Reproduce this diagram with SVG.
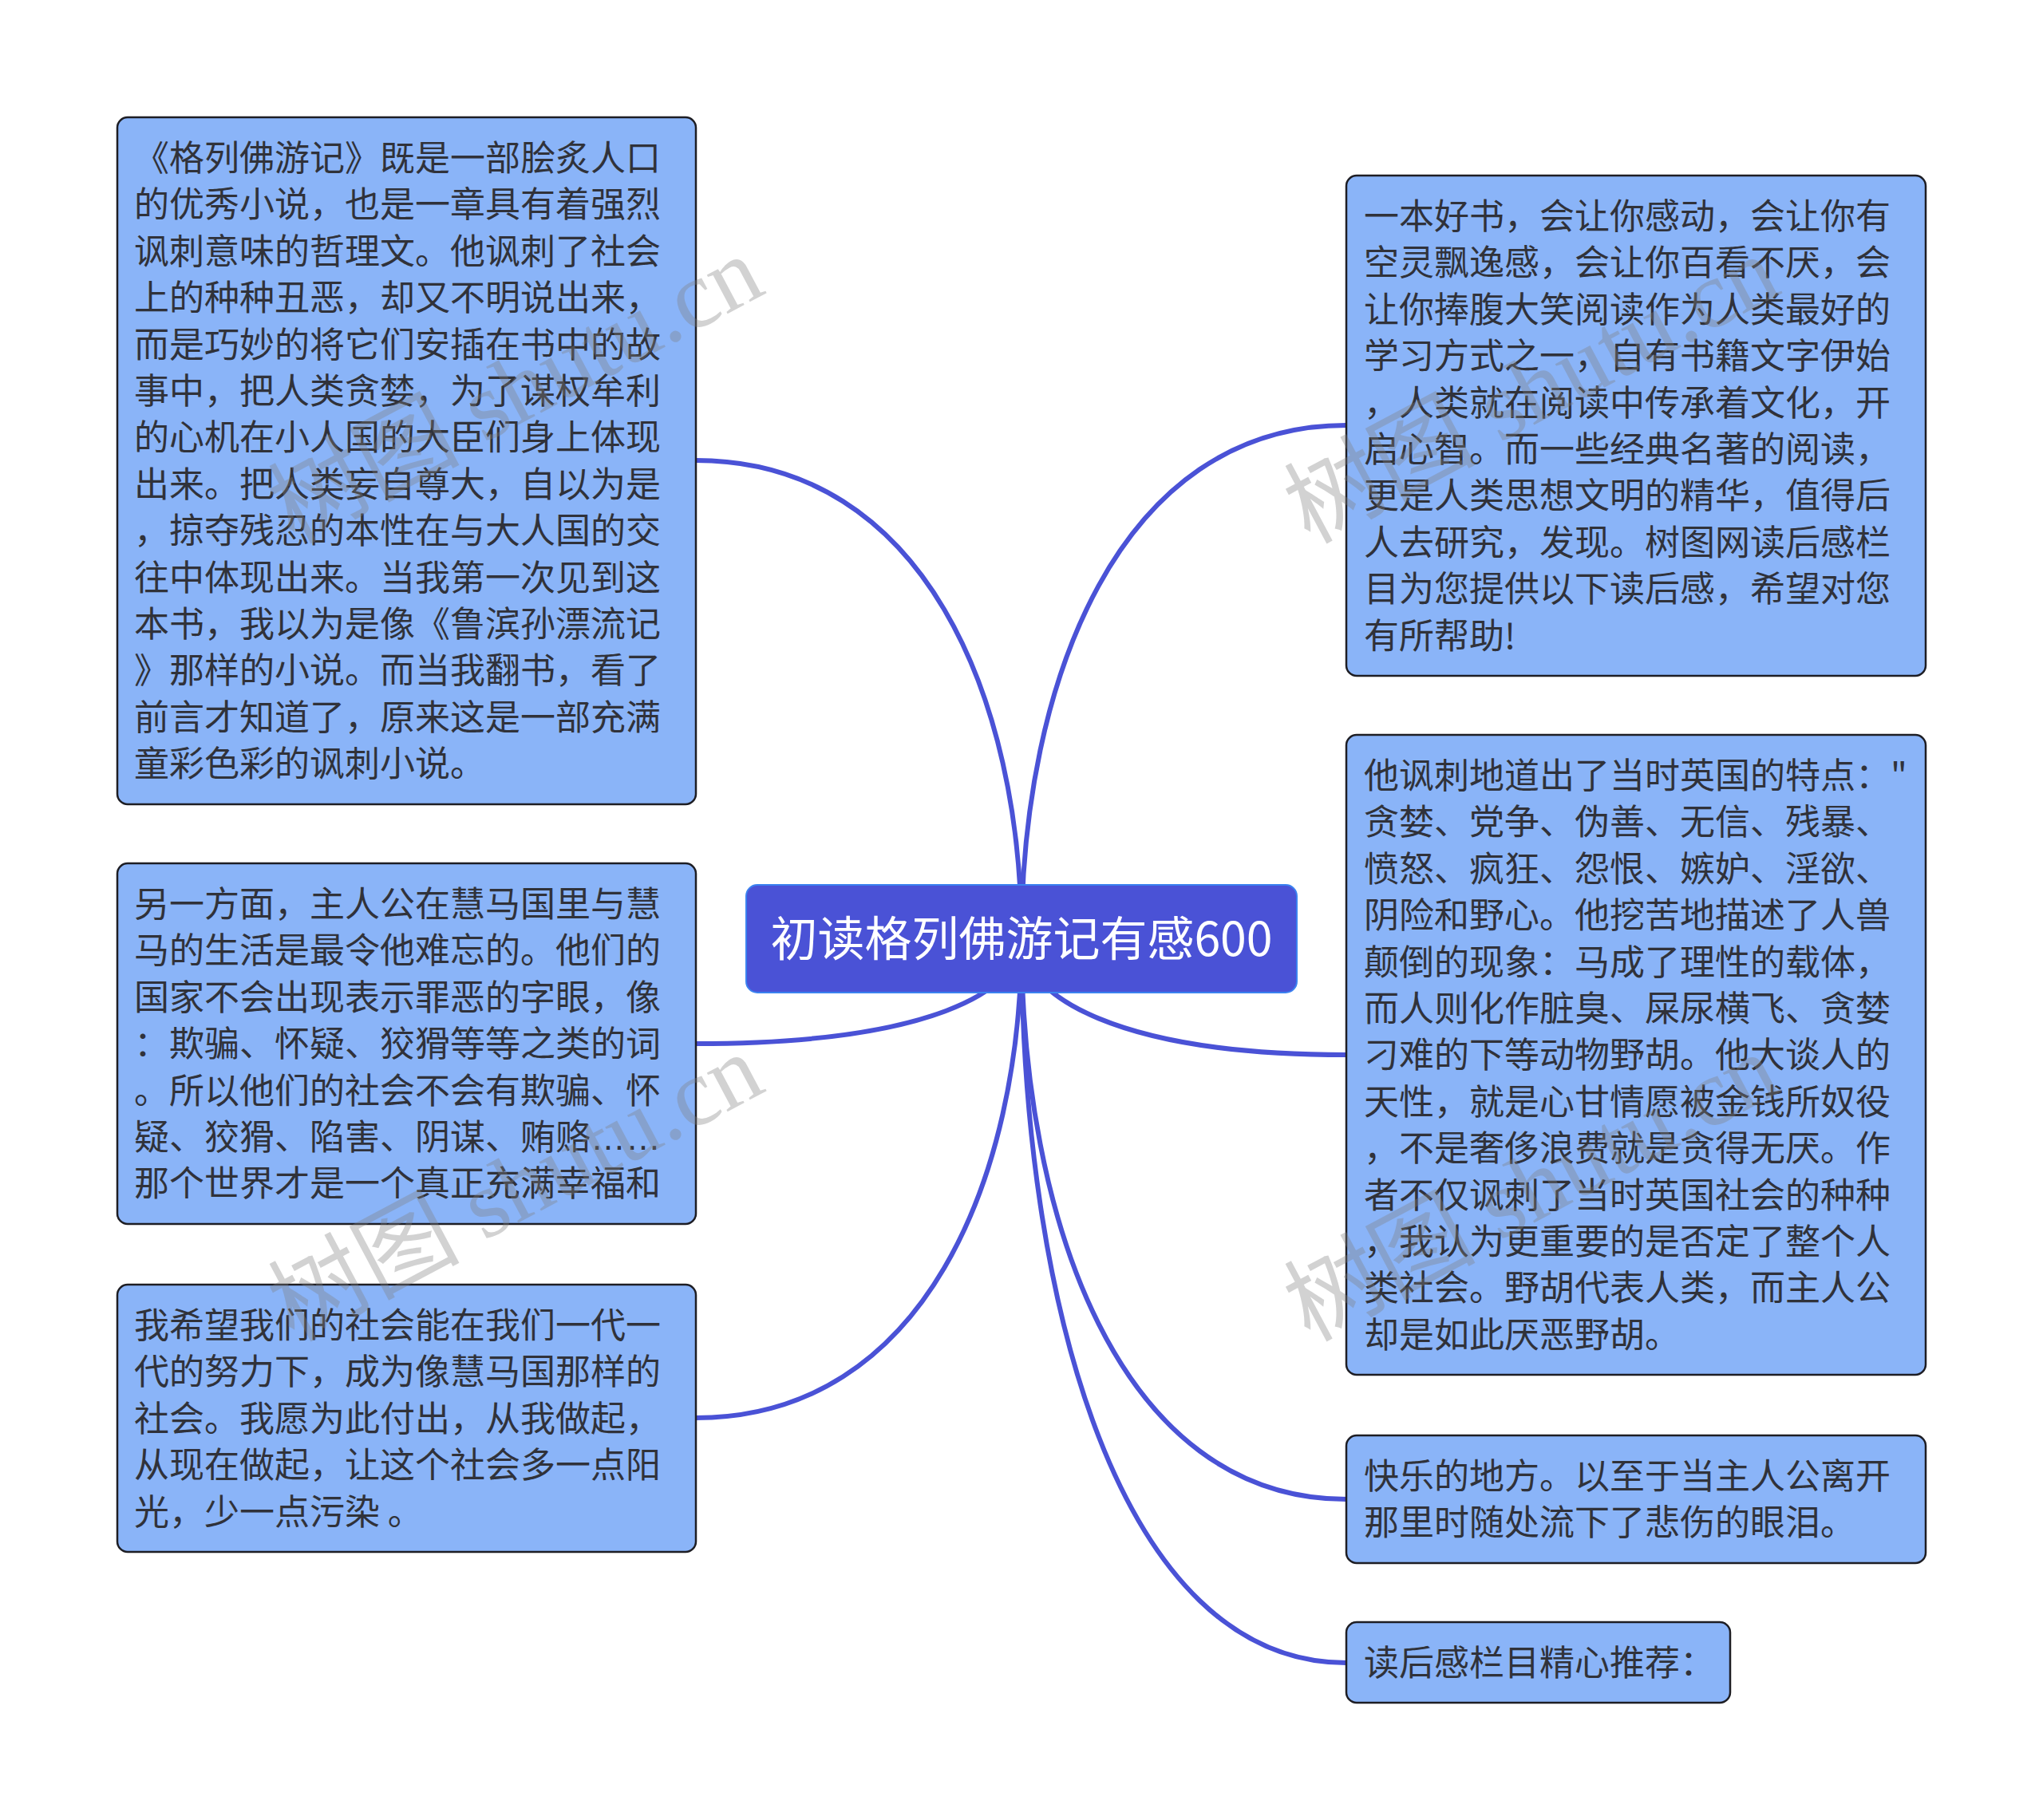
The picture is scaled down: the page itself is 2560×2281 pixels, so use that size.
<svg xmlns="http://www.w3.org/2000/svg" width="2560" height="2281" viewBox="0 0 2560 2281">
<style>
.bg{fill:#ffffff}
.link{fill:none;stroke:#4a52d6;stroke-width:6;stroke-linecap:round}
.box{fill:#8ab4f8;stroke:#1e1e24;stroke-width:2.5}
.root{fill:#4a52d6;stroke:#3b82f0;stroke-width:2}
.t{font-family:"Noto Sans CJK SC","Noto Sans",sans-serif;font-size:44px;fill:#30323a}
.lat{font-family:"Liberation Sans","Noto Sans CJK SC",sans-serif}
.rt{font-family:"Noto Sans CJK SC","Noto Sans",sans-serif;font-size:59px;fill:#ffffff}
.wm{font-family:"Liberation Serif","Noto Sans CJK SC",serif;font-size:120px;fill:#808080;opacity:0.35}
</style>
<rect class="bg" x="0" y="0" width="2560" height="2281"/>
<g id="connectors">
<path class="link" d="M1280,1176 C1280,855 1402,533 1687,533"/>
<path class="link" d="M1280,1176 C1280,876 1158,577 872,577"/>
<path class="link" d="M1280,1176 C1280,1242 1165,1308 872,1308"/>
<path class="link" d="M1280,1176 C1280,1249 1402,1322 1687,1322"/>
<path class="link" d="M1280,1176 C1280,1476 1158,1777 872,1777"/>
<path class="link" d="M1280,1176 C1280,1527 1402,1879 1687,1879"/>
<path class="link" d="M1280,1176 C1280,1630 1402,2084 1687,2084"/>
</g>
<g id="root">
<rect class="root" x="935" y="1109" width="690" height="135" rx="14"/>
<text class="rt" x="1280" y="1198" text-anchor="middle">初读格列佛游记有感600</text>
</g>
<g id="node-l1">
<rect class="box" x="147" y="147" width="725" height="861" rx="13"/>
<text class="t" x="168" y="214">
<tspan x="168">《格列佛游记》既是一部脍炙人口</tspan>
<tspan x="168" dy="58.4">的优秀小说，也是一章具有着强烈</tspan>
<tspan x="168" dy="58.4">讽刺意味的哲理文。他讽刺了社会</tspan>
<tspan x="168" dy="58.4">上的种种丑恶，却又不明说出来，</tspan>
<tspan x="168" dy="58.4">而是巧妙的将它们安插在书中的故</tspan>
<tspan x="168" dy="58.4">事中，把人类贪婪，为了谋权牟利</tspan>
<tspan x="168" dy="58.4">的心机在小人国的大臣们身上体现</tspan>
<tspan x="168" dy="58.4">出来。把人类妄自尊大，自以为是</tspan>
<tspan x="168" dy="58.4">，掠夺残忍的本性在与大人国的交</tspan>
<tspan x="168" dy="58.4">往中体现出来。当我第一次见到这</tspan>
<tspan x="168" dy="58.4">本书，我以为是像《鲁滨孙漂流记</tspan>
<tspan x="168" dy="58.4">》那样的小说。而当我翻书，看了</tspan>
<tspan x="168" dy="58.4">前言才知道了，原来这是一部充满</tspan>
<tspan x="168" dy="58.4">童彩色彩的讽刺小说。</tspan>
</text>
</g>
<g id="node-l2">
<rect class="box" x="147" y="1082" width="725" height="452" rx="13"/>
<text class="t" x="168" y="1149">
<tspan x="168">另一方面，主人公在慧马国里与慧</tspan>
<tspan x="168" dy="58.4">马的生活是最令他难忘的。他们的</tspan>
<tspan x="168" dy="58.4">国家不会出现表示罪恶的字眼，像</tspan>
<tspan x="168" dy="58.4">：欺骗、怀疑、狡猾等等之类的词</tspan>
<tspan x="168" dy="58.4">。所以他们的社会不会有欺骗、怀</tspan>
<tspan x="168" dy="58.4">疑、狡猾、陷害、阴谋、贿赂<tspan class="lat">……</tspan></tspan>
<tspan x="168" dy="58.4">那个世界才是一个真正充满幸福和</tspan>
</text>
</g>
<g id="node-l3">
<rect class="box" x="147" y="1610" width="725" height="335" rx="13"/>
<text class="t" x="168" y="1677">
<tspan x="168">我希望我们的社会能在我们一代一</tspan>
<tspan x="168" dy="58.4">代的努力下，成为像慧马国那样的</tspan>
<tspan x="168" dy="58.4">社会。我愿为此付出，从我做起，</tspan>
<tspan x="168" dy="58.4">从现在做起，让这个社会多一点阳</tspan>
<tspan x="168" dy="58.4">光，少一点污染 。</tspan>
</text>
</g>
<g id="node-r1">
<rect class="box" x="1687" y="220" width="726" height="627" rx="13"/>
<text class="t" x="1709" y="287">
<tspan x="1709">一本好书，会让你感动，会让你有</tspan>
<tspan x="1709" dy="58.4">空灵飘逸感，会让你百看不厌，会</tspan>
<tspan x="1709" dy="58.4">让你捧腹大笑阅读作为人类最好的</tspan>
<tspan x="1709" dy="58.4">学习方式之一，自有书籍文字伊始</tspan>
<tspan x="1709" dy="58.4">，人类就在阅读中传承着文化，开</tspan>
<tspan x="1709" dy="58.4">启心智。而一些经典名著的阅读，</tspan>
<tspan x="1709" dy="58.4">更是人类思想文明的精华，值得后</tspan>
<tspan x="1709" dy="58.4">人去研究，发现。树图网读后感栏</tspan>
<tspan x="1709" dy="58.4">目为您提供以下读后感，希望对您</tspan>
<tspan x="1709" dy="58.4">有所帮助!</tspan>
</text>
</g>
<g id="node-r2">
<rect class="box" x="1687" y="921" width="726" height="802" rx="13"/>
<text class="t" x="1709" y="988">
<tspan x="1709">他讽刺地道出了当时英国的特点："</tspan>
<tspan x="1709" dy="58.4">贪婪、党争、伪善、无信、残暴、</tspan>
<tspan x="1709" dy="58.4">愤怒、疯狂、怨恨、嫉妒、淫欲、</tspan>
<tspan x="1709" dy="58.4">阴险和野心。他挖苦地描述了人兽</tspan>
<tspan x="1709" dy="58.4">颠倒的现象：马成了理性的载体，</tspan>
<tspan x="1709" dy="58.4">而人则化作脏臭、屎尿横飞、贪婪</tspan>
<tspan x="1709" dy="58.4">刁难的下等动物野胡。他大谈人的</tspan>
<tspan x="1709" dy="58.4">天性，就是心甘情愿被金钱所奴役</tspan>
<tspan x="1709" dy="58.4">，不是奢侈浪费就是贪得无厌。作</tspan>
<tspan x="1709" dy="58.4">者不仅讽刺了当时英国社会的种种</tspan>
<tspan x="1709" dy="58.4">，我认为更重要的是否定了整个人</tspan>
<tspan x="1709" dy="58.4">类社会。野胡代表人类，而主人公</tspan>
<tspan x="1709" dy="58.4">却是如此厌恶野胡。</tspan>
</text>
</g>
<g id="node-r3">
<rect class="box" x="1687" y="1799" width="726" height="160" rx="13"/>
<text class="t" x="1709" y="1866">
<tspan x="1709">快乐的地方。以至于当主人公离开</tspan>
<tspan x="1709" dy="58.4">那里时随处流下了悲伤的眼泪。</tspan>
</text>
</g>
<g id="node-r4">
<rect class="box" x="1687" y="2033" width="481" height="101" rx="13"/>
<text class="t" x="1709" y="2100">读后感栏目精心推荐：</text>
</g>
<g id="watermarks">
<text class="wm" transform="translate(652,500) rotate(-28)" text-anchor="middle" dominant-baseline="middle">树图 shutu.cn</text>
<text class="wm" transform="translate(652,1500) rotate(-28)" text-anchor="middle" dominant-baseline="middle">树图 shutu.cn</text>
<text class="wm" transform="translate(1925,500) rotate(-28)" text-anchor="middle" dominant-baseline="middle">树图 shutu.cn</text>
<text class="wm" transform="translate(1925,1500) rotate(-28)" text-anchor="middle" dominant-baseline="middle">树图 shutu.cn</text>
</g>
</svg>
